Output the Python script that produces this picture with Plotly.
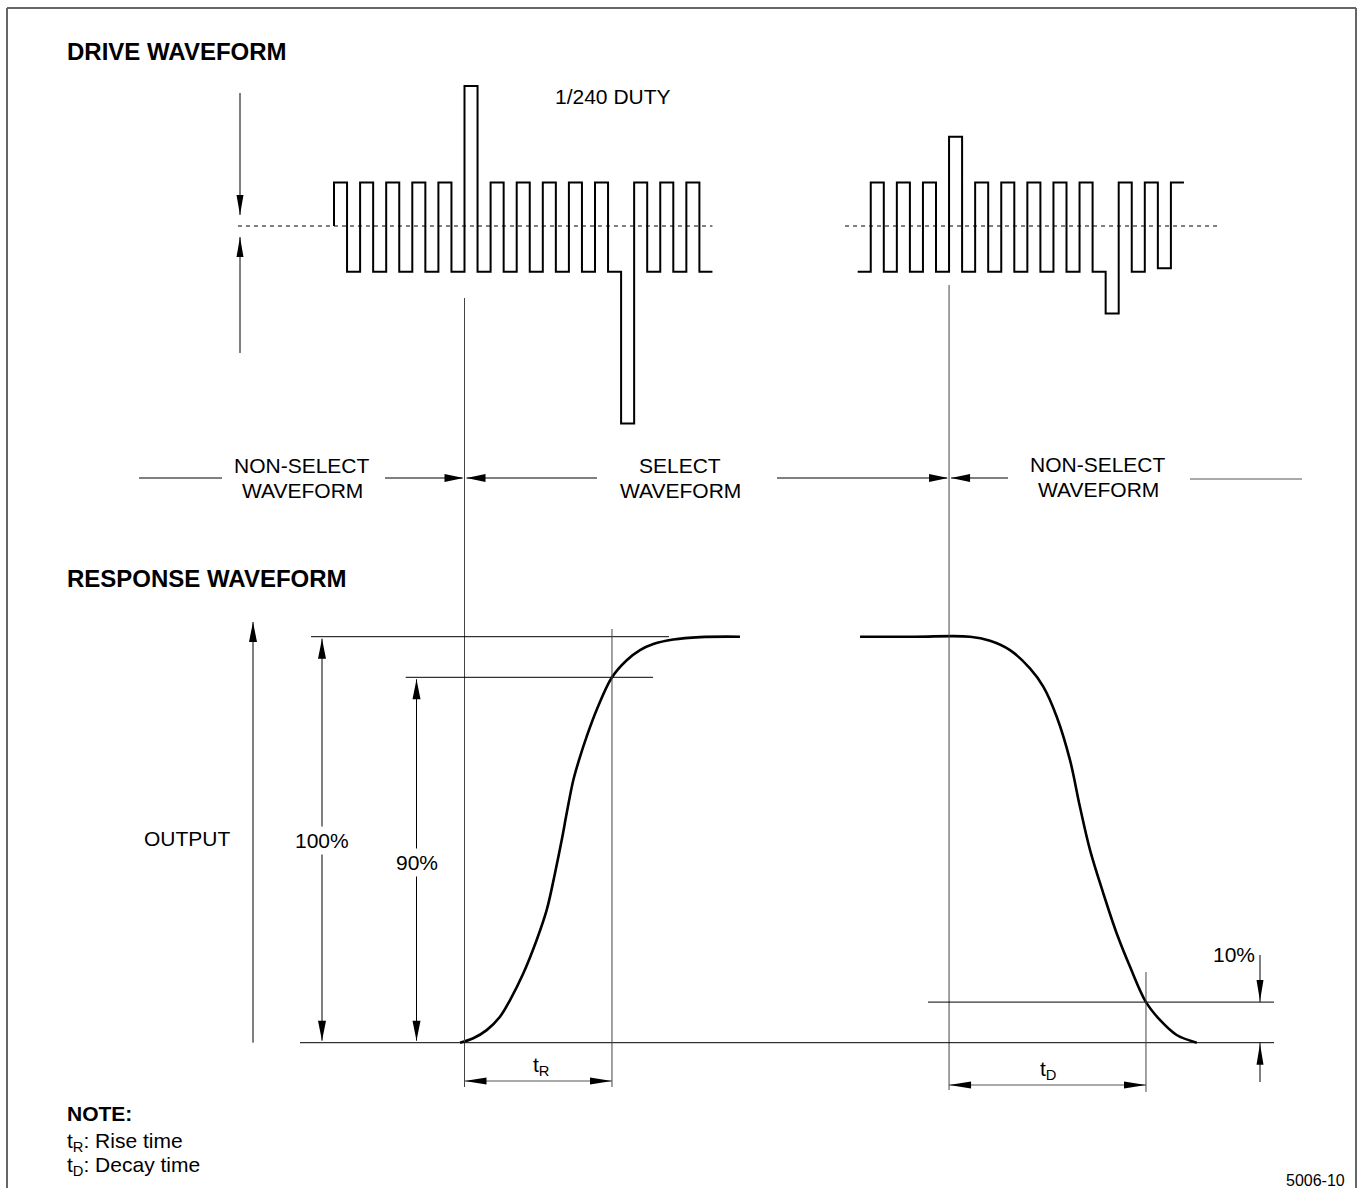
import plotly.graph_objects as go

# ---------------- data ----------------
# Drive waveform: one voltage level per time slot (unit = non-select pulse amplitude)
LEFT_DRIVE_LEVELS = [1, -1.05, 1, -1.05, 1, -1.05, 1, -1.05, 1, -1.05,
                     3.22, -1.05, 1, -1.05, 1, -1.05, 1, -1.05, 1, -1.05,
                     1, -1.05, -4.54, 1, -1.05, 1, -1.05, 1, -1.05]
RIGHT_DRIVE_LEVELS = [-1.05, 1, -1.05, 1, -1.05, 1, -1.05, 2.05, -1.05, 1,
                      -1.05, 1, -1.05, 1, -1.05, 1, -1.05, 1, -1.05, -2.01,
                      1, -1.05, 1, -0.97, 1]
LEFT_DRIVE_START = 0.0       # time slot where the left drive trace starts
RIGHT_DRIVE_START = 40.13
SELECT_START = 10.0
SELECT_END = 47.13
ZERO_REF_LEFT = [-7.36, 29.0]
ZERO_REF_RIGHT = [39.16, 67.89]

# Response (optical output, %) vs time slot
RISE_T = [9.66, 10.67, 11.70, 12.72, 13.49, 14.51, 15.53, 16.30, 16.93, 17.45, 17.83,
          18.34, 18.85, 19.36, 20.13, 21.30, 22.43, 23.45, 24.47, 26.00, 28.05, 31.11]
RISE_PCT = [0, 1.1, 3.1, 6.4, 10.5, 17.1, 25.3, 32.7, 41.7, 49.9, 56.5,
            64.7, 70.4, 75.4, 82.0, 90.0, 94.2, 96.7, 98.2, 99.3, 99.9, 100]
DECAY_T = [40.31, 44.5, 48.74, 50.27, 51.80, 53.33, 54.35, 55.38, 56.40, 57.16, 57.93,
           58.95, 59.98, 61.00, 62.22, 63.29, 64.57, 66.11]
DECAY_PCT = [100, 100, 100, 99.0, 96.7, 92.2, 87.7, 80.3, 69.6, 58.1, 47.5,
             36.8, 26.9, 18.7, 10.0, 5.6, 1.9, 0]
T_RISE_END = 21.30
T_DECAY_END = 62.22
LEVEL_FULL = 100
LEVEL_HI = 90
LEVEL_LO = 10

# ---------------- layout scales ----------------
W, H = 1361, 1188
T0_PX, PX_PER_SLOT = 334.0, 13.05
V0_PX, PX_PER_V = 226.0, 43.5
P0_PX, PX_PER_PCT = 1042.7, 4.06

def tx(t):
    return T0_PX + PX_PER_SLOT * t

def vy(v):
    return V0_PX - PX_PER_V * v

def py(p):
    return P0_PX - PX_PER_PCT * p

FONT = "Liberation Sans, Arial, Helvetica, sans-serif"
BLACK = "#000000"
GRAY = "#444444"

fig = go.Figure()

def step_trace(levels, start, lead_zero=False):
    xs, ys = [], []
    if lead_zero:
        xs.append(start); ys.append(0)
    for i, lv in enumerate(levels):
        xs += [start + i, start + i + 1]
        ys += [lv, lv]
    return xs, ys

for levels, start, lead in [(LEFT_DRIVE_LEVELS, LEFT_DRIVE_START, True),
                            (RIGHT_DRIVE_LEVELS, RIGHT_DRIVE_START, False)]:
    xs, ys = step_trace(levels, start, lead)
    fig.add_trace(go.Scatter(x=xs, y=ys, mode="lines", xaxis="x2", yaxis="y2",
                             line=dict(color=BLACK, width=2), hoverinfo="skip"))

for seg in (ZERO_REF_LEFT, ZERO_REF_RIGHT):
    fig.add_trace(go.Scatter(x=seg, y=[0, 0], mode="lines", xaxis="x2", yaxis="y2",
                             line=dict(color=BLACK, width=1, dash="4px,4px"), hoverinfo="skip"))

for ts, ps in [(RISE_T, RISE_PCT), (DECAY_T, DECAY_PCT)]:
    fig.add_trace(go.Scatter(x=ts, y=ps, mode="lines", xaxis="x2", yaxis="y3",
                             line=dict(color=BLACK, width=2.6, shape="spline", smoothing=1.0),
                             hoverinfo="skip"))

shapes = []

def line(x0, y0, x1, y1, color=BLACK, width=1):
    shapes.append(dict(type="line", xref="x", yref="y", x0=x0, y0=y0, x1=x1, y1=y1,
                       line=dict(color=color, width=width)))

def head(xt, yt, dx, dy, L=20, hw=4):
    bx, by = xt - L * dx, yt - L * dy
    px_, py_ = -dy * hw, dx * hw
    path = f"M {xt},{yt} L {bx + px_},{by + py_} L {bx - px_},{by - py_} Z"
    shapes.append(dict(type="path", xref="x", yref="y", path=path,
                       fillcolor=BLACK, line=dict(width=0)))

# border
line(7, 8, 1356, 8, "#666666", 2)
line(7, 8, 7, 1190, "#666666", 2)
line(1356, 8, 1356, 1190, "#666666", 2)

# drive amplitude arrows
line(240, 93, 240, 215); head(240, 215, 0, 1, 20, 3.5)
line(240, 353, 240, 237); head(240, 237, 0, -1, 20, 3.5)

# select boundaries
xs0, xs1 = tx(SELECT_START), tx(SELECT_END)
line(xs0, 298, xs0, 1087, GRAY)
line(xs1, 285, xs1, 1090, GRAY)

# section row
ry = 478
line(139, ry, 222, ry)
line(385, ry, xs0 - 2, ry); head(xs0 - 1, ry, 1, 0, 19, 4)
line(xs0 + 2, ry, 597, ry); head(xs0 + 2, ry, -1, 0, 19, 4)
line(777, ry, xs1 - 2, ry); head(xs1 - 1, ry, 1, 0, 19, 4)
line(xs1 + 2, ry, 1008, ry); head(xs1 + 2, ry, -1, 0, 19, 4)
line(1190, ry + 1, 1302, ry + 1, "#555555")

# response reference lines
line(253, py(0), 253, 622); head(253, 622, 0, -1, 20, 4)
line(311, py(LEVEL_FULL), 669, py(LEVEL_FULL))
line(405.7, py(LEVEL_HI), 653, py(LEVEL_HI))
line(300, py(0), 1274, py(0))
line(928, py(LEVEL_LO), 1274, py(LEVEL_LO))
line(322, py(LEVEL_FULL) + 2, 322, py(0) - 2)
head(322, py(LEVEL_FULL) + 2, 0, -1, 20, 4); head(322, py(0) - 2, 0, 1, 20, 4)
line(416.5, py(LEVEL_HI) + 2, 416.5, py(0) - 2)
head(416.5, py(LEVEL_HI) + 2, 0, -1, 20, 4); head(416.5, py(0) - 2, 0, 1, 20, 4)
xr, xd = tx(T_RISE_END), tx(T_DECAY_END)
line(xr, 629, xr, 1087, GRAY)
line(xd, 972, xd, 1092, GRAY)
line(xs0, 1081, xr, 1081, "#555555"); head(xs0, 1081, -1, 0, 22, 3.5); head(xr, 1081, 1, 0, 22, 3.5)
line(xs1, 1085, xd, 1085, "#555555"); head(xs1, 1085, -1, 0, 22, 3.5); head(xd, 1085, 1, 0, 22, 3.5)
line(1260, 955, 1260, py(LEVEL_LO)); head(1260, py(LEVEL_LO) - 1, 0, 1, 21, 3.5)
line(1260, 1082, 1260, py(0)); head(1260, py(0) + 1, 0, -1, 21, 3.5)

annotations = []

def text(s, x, y, size=21, anchor="center", bold=False, bg=None):
    a = dict(text=f"<b>{s}</b>" if bold else s, x=x, y=y, xref="x", yref="y",
             showarrow=False, xanchor=anchor, yanchor="middle",
             font=dict(family=FONT, size=size, color=BLACK))
    if bg:
        a["bgcolor"] = bg
        a["borderpad"] = 2
    annotations.append(a)

text("DRIVE WAVEFORM", 65, 51, 24, "left", True)
text("1/240 DUTY", 553, 96, 21, "left")
text("NON-SELECT", 302, 465); text("WAVEFORM", 302, 490)
text("SELECT", 680, 465); text("WAVEFORM", 680, 490)
text("NON-SELECT", 1098, 464); text("WAVEFORM", 1098, 489)
text("RESPONSE WAVEFORM", 65, 578, 24, "left", True)
text("OUTPUT", 187, 838)
text("100%", 322, 840, bg="white")
text("90%", 416.5, 862, bg="white")
text("10%", 1234, 954)
text("t<sub>R</sub>", 541, 1066)
text("t<sub>D</sub>", 1048, 1070)
text("NOTE:", 65, 1113, 21, "left", True)
text("t<sub>R</sub>: Rise time", 65, 1142, 21, "left")
text("t<sub>D</sub>: Decay time", 65, 1166, 21, "left")
text("5006-10", 1347, 1180, 16, "right")

fig.update_layout(
    width=W, height=H, margin=dict(l=0, r=0, t=0, b=0, pad=0),
    paper_bgcolor="white", plot_bgcolor="white", showlegend=False,
    xaxis=dict(range=[0, W], visible=False, fixedrange=True),
    yaxis=dict(range=[H, 0], visible=False, fixedrange=True),
    xaxis2=dict(range=[(0 - T0_PX) / PX_PER_SLOT, (W - T0_PX) / PX_PER_SLOT],
                overlaying="x", anchor="y", visible=False),
    yaxis2=dict(range=[(V0_PX - H) / PX_PER_V, V0_PX / PX_PER_V],
                overlaying="y", anchor="x", visible=False),
    yaxis3=dict(range=[(P0_PX - H) / PX_PER_PCT, P0_PX / PX_PER_PCT],
                overlaying="y", anchor="x", visible=False),
    shapes=shapes, annotations=annotations,
)

fig.write_html("out.html", config={"displayModeBar": False},
               post_script="document.body.style.margin='0';document.body.style.overflow='hidden';")
